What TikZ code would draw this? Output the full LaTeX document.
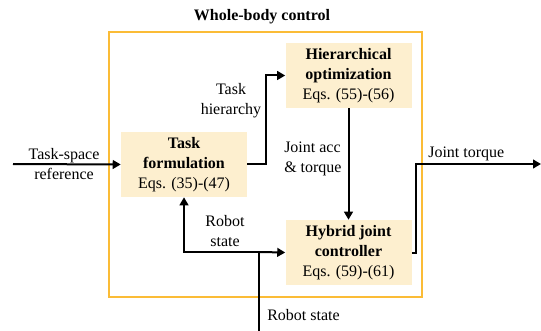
\documentclass[tikz,border=0pt]{standalone}
\usepackage{fontspec}
\setmainfont{Liberation Serif}
\usetikzlibrary{arrows.meta}

\definecolor{wbcframe}{HTML}{FBBC36}
\definecolor{blockfill}{HTML}{FDEFCF}

\tikzset{
  block/.style={fill=blockfill, inner sep=0pt, align=center,
    minimum width=94.5pt, minimum height=48.75pt},
  flow/.style={line width=1.5pt, -{Triangle[length=6pt,width=6.5pt]}},
  wire/.style={line width=1.5pt},
  lbl/.style={align=center, inner sep=0pt},
}

\begin{document}
\begin{tikzpicture}[x=0.75pt, y=-0.75pt, font=\fontsize{12}{15}\selectfont]

  \useasboundingbox (0,0) rectangle (541,331);

  % Outer frame of the controller
  \draw[wbcframe, line width=1.8pt] (109,32) rectangle (422,297);
  \node[lbl, font=\fontsize{12}{15}\selectfont\bfseries] (title) at (262,17) {Whole-body control};

  % The three blocks
  \node[block] (task) at (184,164.5)
    {\textbf{Task}\\\textbf{formulation}\\Eqs. (35)-(47)};
  \node[block] (hier) at (348.5,75.5)
    {\textbf{Hierarchical}\\\textbf{optimization}\\Eqs. (55)-(56)};
  \node[block] (hybrid) at (348.5,252.5)
    {\textbf{Hybrid joint}\\\textbf{controller}\\Eqs. (59)-(61)};

  % Free ends of the signals
  \coordinate (ref) at (13,164);
  \coordinate (out) at (541,164);
  \coordinate (state) at (259,331);
  \coordinate (split) at (259,252);

  % Signals
  \draw[flow] (ref) -- (task.west);
  \draw[flow] (task.east) -- ++(19,0) |- (hier.west);
  \draw[flow] (hier.south) -- (hybrid.north);
  \draw[flow] (hybrid.east) -- ++(4,0) |- (out);
  \draw[wire] (state) -- (split);
  \draw[flow] (split) -- (hybrid.west);
  \draw[flow] (split) -| (task.south);

  % Signal labels
  \node[lbl] (reflbl) at (64,164) {Task-space\\reference};
  \node[lbl] (hierlbl) at (231,101) {Task\\hierarchy};
  \node[lbl, align=left, anchor=west] (acclbl) at (284,159) {Joint acc\\\& torque};
  \node[lbl, anchor=base west] (outlbl) at (428,158) {Joint torque};
  \node[lbl] (statelbl) at (225,231) {Robot\\state};
  \node[lbl, anchor=west] (inlbl) at (267,315) {Robot state};

\end{tikzpicture}
\end{document}
